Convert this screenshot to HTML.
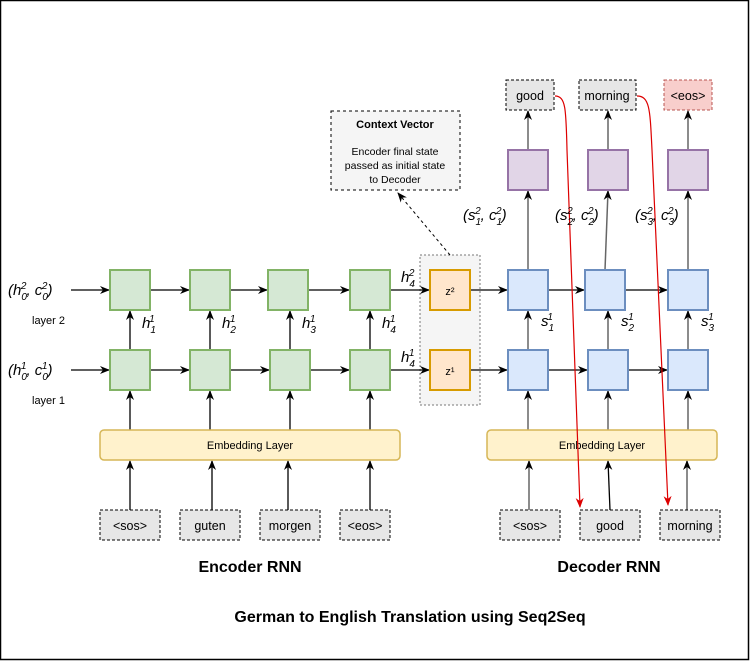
<!DOCTYPE html>
<html><head><meta charset="utf-8"><style>
html,body{margin:0;padding:0;background:#fff}
svg{display:block}
text{font-family:"Liberation Sans",sans-serif}
.m{font-family:"Liberation Serif",serif;font-style:italic}
</style></head><body>
<svg width="751" height="661" viewBox="0 0 751 661" xmlns="http://www.w3.org/2000/svg">
<defs>
<marker id="a" markerWidth="10" markerHeight="10" refX="9" refY="5" orient="auto" markerUnits="userSpaceOnUse"><path d="M0,1 L10,5 L0,9 L3,5 Z" fill="#000"/></marker>
<marker id="r" markerWidth="10" markerHeight="10" refX="9" refY="5" orient="auto" markerUnits="userSpaceOnUse"><path d="M0,1 L10,5 L0,9 L3,5 Z" fill="#d00"/></marker>
</defs>
<rect x="0.5" y="0.5" width="748" height="659" fill="#fff" stroke="#000" stroke-width="1.5"/>
<rect x="420" y="255" width="60" height="150" fill="#f5f5f5" stroke="#777" stroke-dasharray="2,2"/>
<path d="M450,255 L398,193" stroke="#000" stroke-dasharray="3,3" fill="none" marker-end="url(#a)"/>
<rect x="331" y="111" width="129" height="79" fill="#f5f5f5" stroke="#000" stroke-dasharray="3,3"/>
<text x="395" y="128" font-size="11" font-weight="bold" text-anchor="middle">Context Vector</text>
<text x="395" y="155" font-size="10.5" text-anchor="middle">Encoder final state</text>
<text x="395" y="169" font-size="10.5" text-anchor="middle">passed as initial state</text>
<text x="395" y="183" font-size="10.5" text-anchor="middle">to Decoder</text>
<g stroke="#000" stroke-width="1.3" fill="none">
<line x1="71" y1="290" x2="109" y2="290" marker-end="url(#a)"/>
<line x1="151" y1="290" x2="189" y2="290" marker-end="url(#a)"/>
<line x1="230" y1="290" x2="267" y2="290" marker-end="url(#a)"/>
<line x1="308" y1="290" x2="349" y2="290" marker-end="url(#a)"/>
<line x1="390" y1="290" x2="429" y2="290" marker-end="url(#a)"/>
<line x1="71" y1="370" x2="109" y2="370" marker-end="url(#a)"/>
<line x1="151" y1="370" x2="189" y2="370" marker-end="url(#a)"/>
<line x1="230" y1="370" x2="269" y2="370" marker-end="url(#a)"/>
<line x1="310" y1="370" x2="349" y2="370" marker-end="url(#a)"/>
<line x1="390" y1="370" x2="429" y2="370" marker-end="url(#a)"/>
<line x1="130" y1="350" x2="130" y2="311" marker-end="url(#a)"/>
<line x1="210" y1="350" x2="210" y2="311" marker-end="url(#a)"/>
<line x1="290" y1="350" x2="290" y2="311" marker-end="url(#a)"/>
<line x1="370" y1="350" x2="370" y2="311" marker-end="url(#a)"/>
<line x1="130" y1="430" x2="130" y2="391" marker-end="url(#a)"/>
<line x1="210" y1="430" x2="210" y2="391" marker-end="url(#a)"/>
<line x1="290" y1="430" x2="290" y2="391" marker-end="url(#a)"/>
<line x1="370" y1="430" x2="370" y2="391" marker-end="url(#a)"/>
<line x1="130" y1="510" x2="130" y2="461" marker-end="url(#a)"/>
<line x1="212" y1="510" x2="212" y2="461" marker-end="url(#a)"/>
<line x1="288" y1="510" x2="288" y2="461" marker-end="url(#a)"/>
<line x1="370" y1="510" x2="370" y2="461" marker-end="url(#a)"/>
<line x1="471" y1="290" x2="507" y2="290" marker-end="url(#a)"/>
<line x1="548" y1="290" x2="584" y2="290" marker-end="url(#a)"/>
<line x1="625" y1="290" x2="667" y2="290" marker-end="url(#a)"/>
<line x1="471" y1="370" x2="507" y2="370" marker-end="url(#a)"/>
<line x1="548" y1="370" x2="587" y2="370" marker-end="url(#a)"/>
<line x1="628" y1="370" x2="667" y2="370" marker-end="url(#a)"/>
</g>
<g stroke="#666" stroke-width="1.5" fill="none">
<line x1="528" y1="350" x2="528" y2="311" marker-end="url(#a)"/>
<line x1="608" y1="350" x2="608" y2="311" marker-end="url(#a)"/>
<line x1="688" y1="350" x2="688" y2="311" marker-end="url(#a)"/>
<line x1="528" y1="430" x2="528" y2="391" marker-end="url(#a)"/>
<line x1="608" y1="430" x2="608" y2="391" marker-end="url(#a)"/>
<line x1="688" y1="430" x2="688" y2="391" marker-end="url(#a)"/>
<line x1="528" y1="270" x2="528" y2="191" marker-end="url(#a)"/>
<line x1="605" y1="270" x2="608" y2="191" marker-end="url(#a)"/>
<line x1="688" y1="270" x2="688" y2="191" marker-end="url(#a)"/>
<line x1="528" y1="150" x2="528" y2="111" marker-end="url(#a)"/>
<line x1="608" y1="150" x2="608" y2="111" marker-end="url(#a)"/>
<line x1="688" y1="150" x2="688" y2="111" marker-end="url(#a)"/>
<line x1="529" y1="510" x2="529" y2="461" marker-end="url(#a)"/>
<line x1="687" y1="510" x2="687" y2="461" marker-end="url(#a)"/>
</g>
<line x1="610" y1="510" x2="608" y2="461" stroke="#000" stroke-width="1.3" marker-end="url(#a)"/>
<g fill="#d5e8d4" stroke="#82b366" stroke-width="2">
<rect x="110" y="270" width="40" height="40"/><rect x="190" y="270" width="40" height="40"/><rect x="268" y="270" width="40" height="40"/><rect x="350" y="270" width="40" height="40"/>
<rect x="110" y="350" width="40" height="40"/><rect x="190" y="350" width="40" height="40"/><rect x="270" y="350" width="40" height="40"/><rect x="350" y="350" width="40" height="40"/>
</g>
<g fill="#ffe6cc" stroke="#d79b00" stroke-width="2">
<rect x="430" y="270" width="40" height="40"/><rect x="430" y="350" width="40" height="40"/>
</g>
<text x="450" y="295" font-size="11" text-anchor="middle">z²</text>
<text x="450" y="375" font-size="11" text-anchor="middle">z¹</text>
<g fill="#dae8fc" stroke="#6c8ebf" stroke-width="2">
<rect x="508" y="270" width="40" height="40"/><rect x="585" y="270" width="40" height="40"/><rect x="668" y="270" width="40" height="40"/>
<rect x="508" y="350" width="40" height="40"/><rect x="588" y="350" width="40" height="40"/><rect x="668" y="350" width="40" height="40"/>
</g>
<g fill="#e1d5e7" stroke="#9673a6" stroke-width="2">
<rect x="508" y="150" width="40" height="40"/><rect x="588" y="150" width="40" height="40"/><rect x="668" y="150" width="40" height="40"/>
</g>
<rect x="100" y="430" width="300" height="30" rx="4" fill="#fff2cc" stroke="#d6b656" stroke-width="1.5"/>
<text x="250" y="449" font-size="11" text-anchor="middle">Embedding Layer</text>
<rect x="487" y="430" width="230" height="30" rx="4" fill="#fff2cc" stroke="#d6b656" stroke-width="1.5"/>
<text x="602" y="449" font-size="11" text-anchor="middle">Embedding Layer</text>
<g fill="#e6e6e6" stroke="#000" stroke-dasharray="3,2">
<rect x="100" y="510" width="60" height="30"/><rect x="180" y="510" width="60" height="30"/><rect x="260" y="510" width="60" height="30"/><rect x="340" y="510" width="50" height="30"/>
<rect x="500" y="510" width="60" height="30"/><rect x="580" y="510" width="60" height="30"/><rect x="660" y="510" width="60" height="30"/>
<rect x="506" y="80" width="48" height="30"/><rect x="579" y="80" width="57" height="30"/>
</g>
<rect x="664" y="80" width="48" height="30" fill="#f8cecc" stroke="#b85450" stroke-dasharray="3,2"/>
<g font-size="12.5" text-anchor="middle">
<text x="130" y="530">&lt;sos&gt;</text><text x="210" y="530">guten</text><text x="290" y="530">morgen</text><text x="365" y="530">&lt;eos&gt;</text>
<text x="530" y="530">&lt;sos&gt;</text><text x="610" y="530">good</text><text x="690" y="530">morning</text>
<text x="530" y="100">good</text><text x="607" y="100">morning</text><text x="688" y="100">&lt;eos&gt;</text>
</g>
<path d="M555,96 C566,96 566,110 567,150 L580,507" stroke="#d00" stroke-width="1.2" fill="none" marker-end="url(#r)"/>
<path d="M637,96 C650,96 650,110 652,150 L668,505" stroke="#d00" stroke-width="1.2" fill="none" marker-end="url(#r)"/>
<g class="m" font-size="15">
<text x="8" y="295">(h<tspan font-size="10" dy="5">0</tspan><tspan font-size="10" dx="-6" dy="-11">2</tspan><tspan dy="6">, c</tspan><tspan font-size="10" dy="5">0</tspan><tspan font-size="10" dx="-6" dy="-11">2</tspan><tspan dy="6">)</tspan></text>
<text x="8" y="375">(h<tspan font-size="10" dy="5">0</tspan><tspan font-size="10" dx="-6" dy="-11">1</tspan><tspan dy="6">, c</tspan><tspan font-size="10" dy="5">0</tspan><tspan font-size="10" dx="-6" dy="-11">1</tspan><tspan dy="6">)</tspan></text>
<text x="142" y="328">h<tspan font-size="10" dy="5">1</tspan><tspan font-size="10" dx="-6" dy="-11">1</tspan></text>
<text x="222" y="328">h<tspan font-size="10" dy="5">2</tspan><tspan font-size="10" dx="-6" dy="-11">1</tspan></text>
<text x="302" y="328">h<tspan font-size="10" dy="5">3</tspan><tspan font-size="10" dx="-6" dy="-11">1</tspan></text>
<text x="382" y="328">h<tspan font-size="10" dy="5">4</tspan><tspan font-size="10" dx="-6" dy="-11">1</tspan></text>
<text x="401" y="282">h<tspan font-size="10" dy="5">4</tspan><tspan font-size="10" dx="-6" dy="-11">2</tspan></text>
<text x="401" y="362">h<tspan font-size="10" dy="5">4</tspan><tspan font-size="10" dx="-6" dy="-11">1</tspan></text>
<text x="541" y="326">s<tspan font-size="10" dy="5">1</tspan><tspan font-size="10" dx="-6" dy="-11">1</tspan></text>
<text x="621" y="326">s<tspan font-size="10" dy="5">2</tspan><tspan font-size="10" dx="-6" dy="-11">1</tspan></text>
<text x="701" y="326">s<tspan font-size="10" dy="5">3</tspan><tspan font-size="10" dx="-6" dy="-11">1</tspan></text>
<text x="463" y="220">(s<tspan font-size="10" dy="5">1</tspan><tspan font-size="10" dx="-6" dy="-11">2</tspan><tspan dy="6">, c</tspan><tspan font-size="10" dy="5">1</tspan><tspan font-size="10" dx="-6" dy="-11">2</tspan><tspan dy="6">)</tspan></text>
<text x="555" y="220">(s<tspan font-size="10" dy="5">2</tspan><tspan font-size="10" dx="-6" dy="-11">2</tspan><tspan dy="6">, c</tspan><tspan font-size="10" dy="5">2</tspan><tspan font-size="10" dx="-6" dy="-11">2</tspan><tspan dy="6">)</tspan></text>
<text x="635" y="220">(s<tspan font-size="10" dy="5">3</tspan><tspan font-size="10" dx="-6" dy="-11">2</tspan><tspan dy="6">, c</tspan><tspan font-size="10" dy="5">3</tspan><tspan font-size="10" dx="-6" dy="-11">2</tspan><tspan dy="6">)</tspan></text>
</g>
<text x="32" y="324" font-size="11">layer 2</text>
<text x="32" y="404" font-size="11">layer 1</text>
<text x="250" y="572" font-size="16" font-weight="bold" text-anchor="middle">Encoder RNN</text>
<text x="609" y="572" font-size="16" font-weight="bold" text-anchor="middle">Decoder RNN</text>
<text x="410" y="622" font-size="16" font-weight="bold" text-anchor="middle">German to English Translation using Seq2Seq</text>
</svg>
</body></html>
